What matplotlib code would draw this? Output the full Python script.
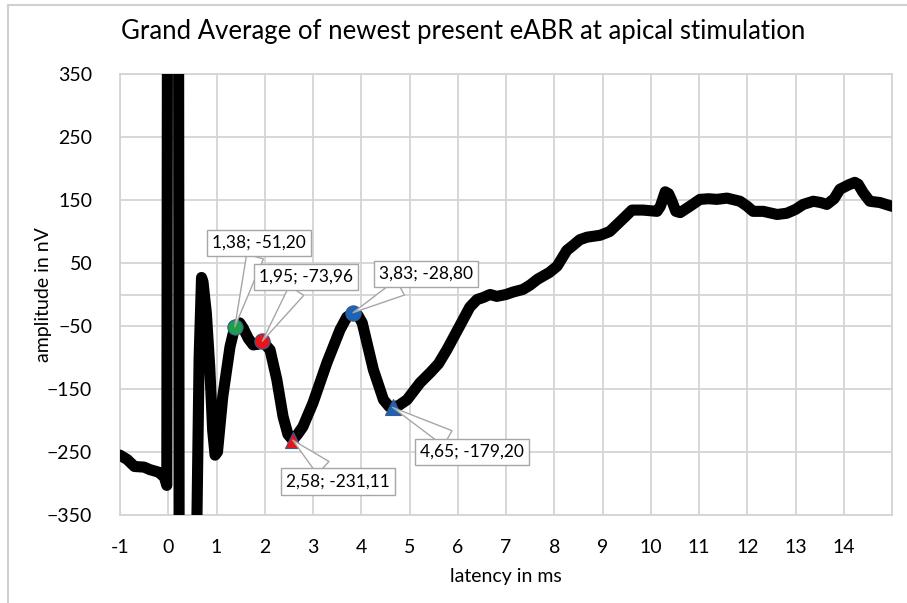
import matplotlib.pyplot as plt
from matplotlib.lines import Line2D

# grand average curve
latency = [-1.0, -0.85, -0.7, -0.5, -0.38, -0.2, -0.08, -0.03, 0.03, 0.18, 0.26, 0.45,
           0.59, 0.64, 0.69, 0.72, 0.79, 0.86, 0.92, 0.97, 1.02, 1.13, 1.28, 1.38,
           1.48, 1.55, 1.66, 1.76, 1.86, 1.95, 2.11, 2.25, 2.38, 2.48, 2.58, 2.68,
           2.79, 3.0, 3.29, 3.56, 3.7, 3.83, 3.93, 4.02, 4.25, 4.46, 4.58, 4.65,
           4.78, 4.95, 5.22, 5.43, 5.6, 5.78, 6.11, 6.25, 6.4, 6.52, 6.67, 6.81,
           7.0, 7.15, 7.35, 7.5, 7.65, 7.9, 8.06, 8.26, 8.39, 8.53, 8.68, 8.95,
           9.15, 9.3, 9.45, 9.61, 9.84, 10.13, 10.2, 10.3, 10.37, 10.44, 10.52,
           10.61, 10.81, 11.02, 11.2, 11.37, 11.58, 11.85, 12.0, 12.12, 12.33,
           12.62, 12.82, 13.0, 13.16, 13.37, 13.52, 13.65, 13.8, 13.92, 14.1,
           14.23, 14.3, 14.4, 14.54, 14.75, 15.0]
amplitude = [-255, -262, -273, -274, -278, -282, -290, -303, 3000, 3000, -3000, -3000,
             -380, -100, 27, 20, -30, -115, -215, -255, -250, -162, -83, -51,
             -45, -53, -70, -80, -79, -74, -88, -135, -194, -222, -231, -222,
             -210, -172, -108, -56, -36, -29, -33, -45, -119, -167, -178, -179,
             -176, -167, -140, -124, -110, -87, -40, -20, -8, -5, 0, -3,
             0, 4, 8, 15, 24, 35, 45, 70, 78, 87, 91, 94,
             100, 111, 122, 134, 134, 132, 140, 163, 160, 148, 132,
             130, 140, 151, 152, 151, 153, 148, 140, 132, 132,
             127, 129, 135, 143, 148, 146, 143, 152, 167, 174,
             178, 175, 162, 148, 146, 140]

# marked peaks / troughs
pk_x = [1.38, 1.95, 2.58, 3.83, 4.65]
pk_y = [-51.20, -73.96, -231.11, -28.80, -179.20]
pk_marker = ['o', 'o', '^', 'o', '^']
pk_color = ['#1e9e4c', '#e8141c', '#e8141c', '#1c63b5', '#1c63b5']
pk_label = ['1,38; -51,20', '1,95; -73,96', '2,58; -231,11', '3,83; -28,80', '4,65; -179,20']
lbl_x = [1.88, 2.85, 3.52, 5.34, 6.30]
lbl_y = [82, 28, -297, 33, -250]

x_ticks = list(range(-1, 16))
x_ticklabels = [str(t) for t in range(-1, 15)] + ['']
y_ticks = [-350, -250, -150, -50, 50, 150, 250, 350]

plt.rcParams['font.family'] = ['Lato', 'DejaVu Sans']

fig = plt.figure(figsize=(9.07, 6.03), dpi=100)
ax = fig.add_axes([120/907, 1-515/603, 772/907, 441/603])

grid_c = '#d4d4d4'
ax.plot(latency, amplitude, color='black', lw=8, solid_joinstyle='round',
        solid_capstyle='round', zorder=3)
ax.axhline(0, color=grid_c, lw=1.3, zorder=1)

for i in range(len(pk_x)):
    ax.plot(pk_x[i], pk_y[i], marker=pk_marker[i], color=pk_color[i], ms=11,
            mec='#3a5a8a', mew=0.8, zorder=5)
    ax.annotate(pk_label[i], xy=(pk_x[i], pk_y[i]), xytext=(lbl_x[i], lbl_y[i]),
                ha='center', va='center', fontsize=12.5, zorder=6,
                bbox=dict(boxstyle='square,pad=0.3', fc='white', ec='#a6a6a6', lw=1),
                arrowprops=dict(arrowstyle='wedge,tail_width=1.0,shrink_factor=0.5',
                                fc='white', ec='#a6a6a6', lw=1, shrinkA=0, shrinkB=0))

ax.set_xlim(-1, 15)
ax.set_ylim(-350, 350)
ax.set_xticks(x_ticks)
ax.set_xticklabels(x_ticklabels)
ax.set_yticks(y_ticks)
ax.grid(True, color=grid_c, lw=1.3)
ax.set_axisbelow(True)
for s in ax.spines.values():
    s.set_color(grid_c)
    s.set_linewidth(1.3)
ax.tick_params(length=0, labelsize=14, pad=17)
ax.tick_params(axis='y', pad=20)

ax.set_xlabel('latency in ms', fontsize=14, labelpad=9)
ax.set_ylabel('amplitude in nV', fontsize=14, labelpad=-4)
fig.suptitle('Grand Average of newest present eABR at apical stimulation',
             x=0.511, y=0.968, fontsize=18.5)

# chart border (left and top edges visible)
fig.add_artist(Line2D([8/907, 8/907], [0, 1-5/603], color='#d0d0d0', lw=1.5))
fig.add_artist(Line2D([8/907, 1], [1-5/603, 1-5/603], color='#d0d0d0', lw=1.5))

fig.savefig('out.png', dpi=100)
